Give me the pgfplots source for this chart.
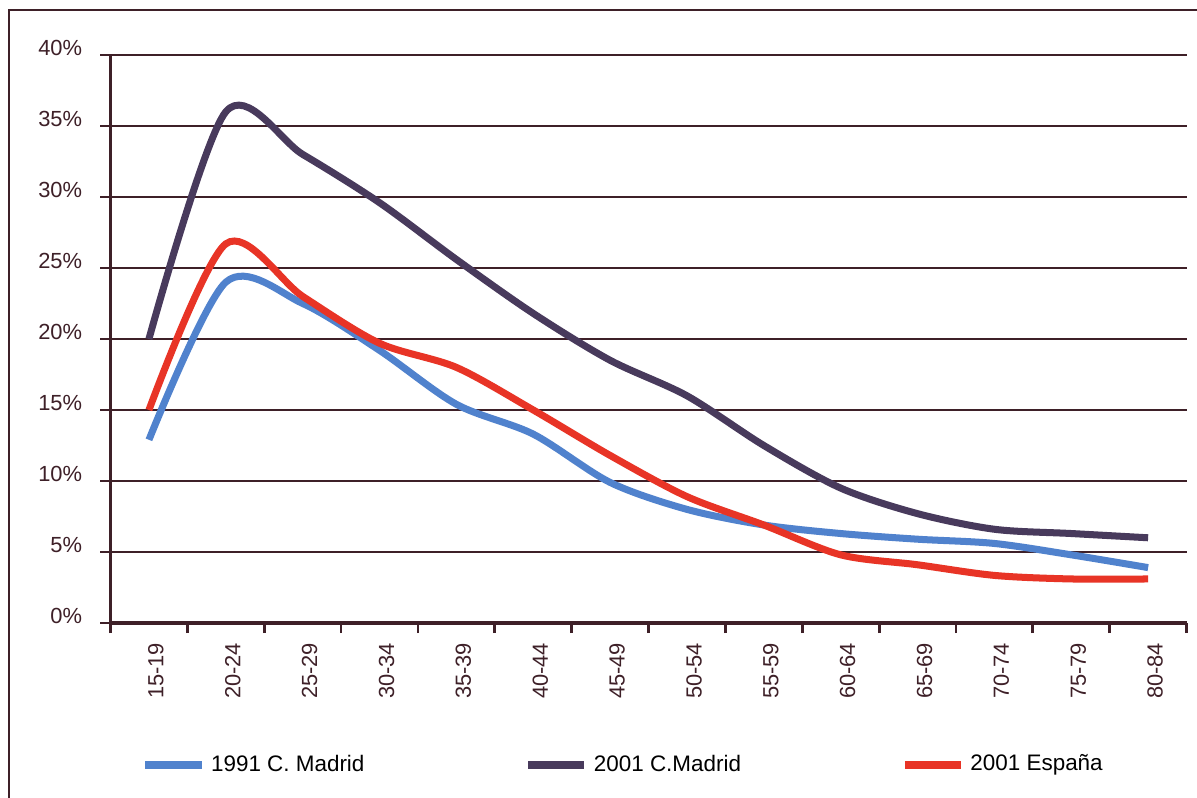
\documentclass[border=0pt]{standalone}
\usepackage{fontspec}
\setmainfont{Liberation Sans}
\usepackage{pgfplots}
\pgfplotsset{compat=1.18}
\usepackage{pgfplotstable}

\definecolor{ink}{RGB}{62,32,40}
\definecolor{c91}{RGB}{80,130,205}
\definecolor{cmad}{RGB}{72,58,92}
\definecolor{cesp}{RGB}{232,52,38}

% age groups at 0.5 ... 13.5 (15-19 ... 80-84)
\pgfplotstableread{
x    m1991  m2001  e2001
0.5  12.9   20.0   15.0
1.5  24.0   36.0   26.7
2.5  22.5   33.0   23.0
3.5  19.2   29.6   19.7
4.5  15.4   25.6   18.0
5.5  13.3   21.8   15.0
6.5   9.9   18.5   11.8
7.5   8.0   16.0    8.9
8.5   6.9   12.5    6.9
9.5   6.3    9.5    4.8
10.5  5.9    7.7    4.1
11.5  5.6    6.6    3.35
12.5  4.8    6.3    3.1
13.5  3.9    6.0    3.1
}\datos

\begin{document}
\begin{tikzpicture}
\useasboundingbox (-1.385cm,-2.193cm) rectangle (13.615cm,7.807cm);
\fill[white] (-1.385cm,-2.193cm) rectangle (13.615cm,7.807cm);
\draw[ink, line width=1pt] (-1.272cm,-2.4cm) -- (-1.272cm,7.682cm) -- (13.8cm,7.682cm);
\begin{axis}[
  name=ax, at={(0,0)}, anchor=south west,
  scale only axis, width=13.484cm, height=7.118cm,
  xmin=0, xmax=14, ymin=0, ymax=40,
  axis x line*=bottom, axis y line*=left,
  axis line style={-, ink, line width=1.3pt},
  xtick={0.5,1.5,...,13.5},
  xticklabels={15-19,20-24,25-29,30-34,35-39,40-44,45-49,50-54,55-59,60-64,65-69,70-74,75-79,80-84},
  minor xtick={0,1,...,14},
  major x tick style={draw=none},
  minor x tick style={ink, line width=1pt},
  minor tick length=3.6pt,
  ytick={0,5,...,40},
  yticklabel={\pgfmathprintnumber{\tick}\%},
  major y tick style={ink, line width=1pt},
  major tick length=3.6pt,
  tick align=outside,
  ymajorgrids,
  major grid style={ink, line width=1pt},
  tick label style={font=\fontsize{7.8}{9}\selectfont, text=ink},
  xticklabel style={rotate=90, anchor=east, xshift=0pt, yshift=-2.5pt},
  yticklabel style={anchor=east, yshift=2.5pt, xshift=-3pt},
  /pgf/number format/assume math mode=true,
  clip=false,
  legend columns=3,
  legend style={at={(0.0283,-0.25)}, anchor=west, draw=none, fill=none,
    inner sep=0pt, font=\fontsize{8}{9}\selectfont, text=black,
    /tikz/every even column/.append style={column sep=55pt}},
  legend image code/.code={\draw[line width=2.8pt] (0pt,0pt) -- (20pt,0pt);},
]
\addplot[c91, line width=2.5pt, smooth, tension=0.5] table[x=x, y=m1991] {\datos};
\addlegendentry{1991 C. Madrid}
\addplot[cmad, line width=2.5pt, smooth, tension=0.5] table[x=x, y=m2001] {\datos};
\addlegendentry{2001 C.Madrid}
\addplot[cesp, line width=2.5pt, smooth, tension=0.5] table[x=x, y=e2001] {\datos};
\addlegendentry{2001 España}
\end{axis}
\end{tikzpicture}
\end{document}
